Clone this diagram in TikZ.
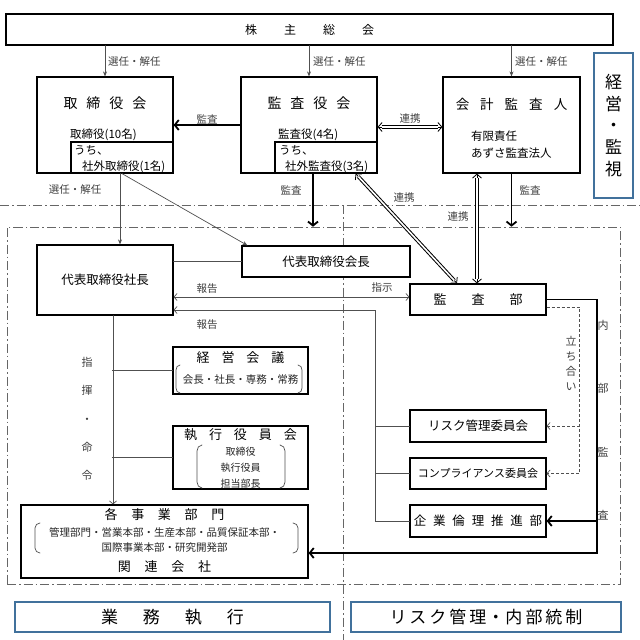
\documentclass[tikz,border=0pt]{standalone}
\usepackage{fontspec}
\setmainfont{Noto Sans CJK JP}
\usetikzlibrary{arrows.meta}
\definecolor{frameblue}{HTML}{41719C}
\definecolor{linegray}{HTML}{505050}
\newcommand{\fsz}[1]{\fontsize{#1}{#1}\selectfont}

\begin{document}
\begin{tikzpicture}[line cap=round,x=1pt,y=-1pt,>={Straight Barb[length=3pt,width=7pt]},
  box/.style={draw,fill=white,line width=1.2pt,inner sep=0pt,font=\fsz{12.5}},
  bluebox/.style={draw=frameblue,fill=white,line width=1.6pt,inner sep=0pt,font=\fsz{17}},
  lbl/.style={font=\fsz{10.5},text=black!75,inner sep=0pt},
  small/.style={font=\fsz{11.5},inner sep=0pt},
  conn/.style={draw=linegray,line width=0.7pt},
  selarr/.style={conn,-{Stealth[length=5pt,width=4pt]}},
  heavy/.style={line width=1.8pt,-{Straight Barb[length=4pt,width=10pt]}},
  dbl/.style={line width=0.8pt,line cap=butt,
    {Straight Barb[length=4pt,width=9pt]}-{Straight Barb[length=4pt,width=9pt]},
    postaction={draw,-,line width=3.6pt,shorten <=4pt,shorten >=4pt},
    postaction={draw=white,-,line width=1.6pt,shorten <=4pt,shorten >=4pt}},
  dashdot/.style={draw=black!60,line width=0.6pt,line cap=butt,
    dash pattern=on 9pt off 3pt on 1.5pt off 3pt},
  dashline/.style={draw=linegray,line width=0.7pt,line cap=butt,dash pattern=on 3pt off 2pt}]
\useasboundingbox[fill=white] (0,0) rectangle (640,640);

% zones
\draw[dashdot] (0,205) -- (640,205);
\draw[dashdot] (343,205) -- (343,640);
\node[dashdot,draw,inner sep=0pt,minimum width=613,minimum height=357] (zone) at (313.5,405.5) {};

% governance
\node[box,font=\fsz{12},minimum width=607,minimum height=31] (agm) at (309.5,29.5)
  {株\hspace{27pt}主\hspace{27pt}総\hspace{27pt}会};

\node[box,minimum width=136,minimum height=96] (bod) at (105,125) {};
\node[font=\fsz{14}] (bodt) at (105,103) {取\hspace{9pt}締\hspace{9pt}役\hspace{9pt}会};
\node[box,minimum width=102,minimum height=31] (bodin) at (122,157.5) {};
\node[small,anchor=west] (bodn) at (70,135) {取締役(10名)};
\node[small,anchor=west] (bodu) at (74,150) {うち、};
\node[small,anchor=west] (bods) at (82,167) {社外取締役(1名)};

\node[box,minimum width=136,minimum height=96] (asb) at (309,125) {};
\node[font=\fsz{14}] (asbt) at (309,103) {監\hspace{9pt}査\hspace{9pt}役\hspace{9pt}会};
\node[box,minimum width=102,minimum height=31] (asbin) at (326,157.5) {};
\node[small,anchor=west] (asbn) at (278,135) {監査役(4名)};
\node[small,anchor=west] (asbu) at (279,150) {うち、};
\node[small,anchor=west] (asbs) at (285,167) {社外監査役(3名)};

\node[box,minimum width=137,minimum height=96] (aud) at (511.5,125) {};
\node[font=\fsz{13.5}] (audt) at (511.5,104) {会\hspace{11pt}計\hspace{11pt}監\hspace{11pt}査\hspace{11pt}人};
\node[small,anchor=west] (audn) at (471,136) {有限責任};
\node[small,anchor=west] (auda) at (471,153) {あずさ監査法人};

\node[bluebox,minimum width=39,minimum height=145,align=center,
  font=\fontsize{17}{21.75}\selectfont] (keiei) at (613.5,125.5) {経\\営\\・\\監\\視};

\draw[selarr] (agm.south -| bod.north) -- (bod.north);
\draw[selarr] (agm.south -| asb.north) -- (asb.north);
\draw[selarr] (agm.south -| aud.north) -- (aud.north);
\node[lbl,anchor=west] (sel1) at (108,62) {選任・解任};
\node[lbl,anchor=west] (sel2) at (313,62) {選任・解任};
\node[lbl,anchor=west] (sel3) at (515,62) {選任・解任};

\draw[heavy] (asb.west) -- (bod.east);
\node[lbl] (kan1) at (207,119) {監査};
\draw[dbl] ([yshift=-2pt]asb.east) -- ([yshift=-2pt]aud.west);
\node[lbl] (ren1) at (410,119) {連携};

% execution
\node[box,minimum width=136,minimum height=70] (pres) at (105,280) {代表取締役社長};
\node[box,minimum width=168,minimum height=31] (chair) at (326,261.5) {代表取締役会長};
\node[box,font=\fsz{13},minimum width=136,minimum height=31] (audit) at (478,299.5)
  {監\hspace{25pt}査\hspace{25pt}部};

\draw[selarr] ([xshift=15pt]bod.south) -- ([xshift=15pt]pres.north);
\draw[selarr] ([xshift=17pt]bod.south) -- ([xshift=6pt]chair.north west);
\node[lbl] (sel4) at (75,190) {選任・解任};
\draw[heavy] ([xshift=4pt]asb.south) -- ([xshift=4pt]asb.south |- zone.north);
\node[lbl] (kan2) at (291,190) {監査};
\draw[heavy] (aud.south) -- (aud.south |- zone.north);
\node[lbl] (kan3) at (530,190) {監査};
\draw[dbl] ([xshift=-22pt]asbin.south east) -- ([xshift=-21pt]audit.north);
\node[lbl] (ren2) at (404,198) {連携};
\draw[dbl] ([xshift=-34.5pt]aud.south) -- ([xshift=-1pt]audit.north);
\node[lbl] (ren3) at (458,217) {連携};

\draw[conn] (chair.west) -- (chair.west -| pres.east);
\draw[conn,<->] ([yshift=2.5pt]audit.west -| pres.east) -- ([yshift=2.5pt]audit.west);
\node[lbl] (rep1) at (207,289) {報告};
\node[lbl] (inst) at (382,288) {指示};

\node[box,minimum width=135,minimum height=47] (mgmt) at (240.5,370.5) {};
\node[font=\fsz{13}] (mgmtt) at (240.5,358) {経\hspace{12pt}営\hspace{12pt}会\hspace{12pt}議};
\node[lbl,text=black!85] (mgmtm) at (240.5,380) {会長・社長・専務・常務};
\draw[conn] (180,365) to[out=180,in=90] (176,370) -- (176,388) to[out=-90,in=180] (180,393);
\draw[conn] (298,365) to[out=0,in=90] (302,370) -- (302,388) to[out=-90,in=0] (298,393);

\node[box,minimum width=135,minimum height=63] (exec) at (240.5,457.5) {};
\node[font=\fsz{13}] (exect) at (240.5,435) {執\hspace{12pt}行\hspace{12pt}役\hspace{12pt}員\hspace{12pt}会};
\node[lbl,text=black!85,align=center,font=\fontsize{10}{16}\selectfont] (execm) at (240.5,468)
  {取締役\\執行役員\\担当部長};
\draw[conn] (202,445) to[out=180,in=90] (197,451) -- (197,482) to[out=-90,in=180] (202,488);
\draw[conn] (280,445) to[out=0,in=90] (285,451) -- (285,482) to[out=-90,in=0] (280,488);

\node[box,minimum width=287,minimum height=73] (div) at (164.5,541.5) {};
\node[font=\fsz{13}] (divt) at (164.5,515) {各\hspace{13.7pt}事\hspace{13.7pt}業\hspace{13.7pt}部\hspace{13.7pt}門};
\node[lbl,text=black!85] (divm1) at (164.5,532) {管理部門・営業本部・生産本部・品質保証本部・};
\node[lbl,text=black!85] (divm2) at (164.5,548) {国際事業本部・研究開発部};
\node[font=\fsz{13}] (divr) at (164.5,567) {関\hspace{13.7pt}連\hspace{13.7pt}会\hspace{13.7pt}社};
\draw[conn] (40,523) to[out=180,in=90] (35,528) -- (35,548) to[out=-90,in=180] (40,553);
\draw[conn] (293,523) to[out=0,in=90] (298,528) -- (298,548) to[out=-90,in=0] (293,553);

\draw[conn,->] ([xshift=8pt]pres.south) -- ([xshift=8pt]pres.south |- div.north);
\draw[conn] (mgmt.west) -- ++(-60,0);
\draw[conn] (exec.west) -- ++(-60,0);
\node[lbl,align=center,font=\fontsize{11}{28.3}\selectfont] (cmd) at (87,419) {指\\揮\\・\\命\\令};

% risk management
\node[box,minimum width=136,minimum height=32] (risk) at (478,426) {リスク管理委員会};
\node[box,font=\fsz{11},minimum width=136,minimum height=31] (comp) at (478,473.5) {コンプライアンス委員会};
\node[box,minimum width=136,minimum height=32] (ethics) at (478,521)
  {企\hspace{6.8pt}業\hspace{6.8pt}倫\hspace{6.8pt}理\hspace{6.8pt}推\hspace{6.8pt}進\hspace{6.8pt}部};

\draw[conn,<-] ([yshift=-30pt]pres.east) -| ([xshift=-34pt]ethics.west) -- (ethics.west);
\draw[conn] (risk.west) -- ++(-34,0);
\draw[conn] (comp.west) -- ++(-34,0);
\node[lbl] (rep2) at (207,325) {報告};

\draw[dashline,->] ([yshift=-7.5pt]audit.east) -- ++(33,0) |- (comp.east);
\draw[dashline,->] (risk.east) ++(33,0) -- (risk.east);
\node[lbl,align=center,font=\fontsize{11}{15}\selectfont] (attend) at (571,363) {立\\ち\\合\\い};

\draw[heavy] (audit.east) -- ++(50,0) |- ([yshift=-11.5pt]div.east);
\draw[heavy] (ethics.east) ++(50,0) -- (ethics.east);
\node[lbl,align=center,font=\fontsize{11}{63.5}\selectfont] (inner) at (603,420) {内\\部\\監\\査};

% captions
\node[bluebox,minimum width=315,minimum height=30] (gyomu) at (172.5,617)
  {業\hspace{25pt}務\hspace{25pt}執\hspace{25pt}行};
\node[bluebox,minimum width=270,minimum height=30] (naibu) at (486,617)
  {リ\hspace{3pt}ス\hspace{3pt}ク\hspace{3pt}管\hspace{3pt}理\hspace{1pt}・\hspace{1pt}内\hspace{3pt}部\hspace{3pt}統\hspace{3pt}制};
\end{tikzpicture}
\end{document}
